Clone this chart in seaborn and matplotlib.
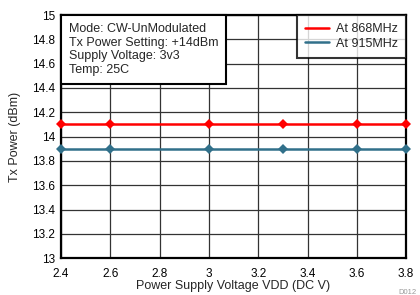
import matplotlib
matplotlib.use('Agg')
import matplotlib.pyplot as plt
from matplotlib.offsetbox import AnchoredText
import seaborn as sns
import pandas as pd

# supply voltage sweep, Tx power readings
vdd = [2.4, 2.6, 3.0, 3.3, 3.6, 3.8]
pwr_868 = [14.1, 14.1, 14.1, 14.1, 14.1, 14.1]
pwr_915 = [13.9, 13.9, 13.9, 13.9, 13.9, 13.9]
series = ['At 868MHz', 'At 915MHz']
yticks = [13, 13.2, 13.4, 13.6, 13.8, 14, 14.2, 14.4, 14.6, 14.8, 15]
xticks = [2.4, 2.6, 2.8, 3, 3.2, 3.4, 3.6, 3.8]
note = 'Mode: CW-UnModulated\nTx Power Setting: +14dBm\nSupply Voltage: 3v3\nTemp: 25C'

df = pd.DataFrame({'VDD': vdd * 2,
                   'Power': pwr_868 + pwr_915,
                   'Series': [series[0]] * len(vdd) + [series[1]] * len(vdd)})

sns.set_style('white')
plt.rcParams['font.family'] = ['Liberation Sans', 'DejaVu Sans']

fig = plt.figure(figsize=(4.2, 2.95), dpi=100)
ax = fig.add_axes([0.145, 0.125, 0.822, 0.824])

sns.lineplot(data=df, x='VDD', y='Power', hue='Series',
             palette=['#ff0000', '#31708a'], marker='D', markersize=5.5,
             markeredgewidth=0, linewidth=1.8, ax=ax, zorder=3)

ax.set_xlim(2.4, 3.8)
ax.set_ylim(13, 15)
ax.set_xticks(xticks)
ax.set_xticklabels([f'{t:g}' for t in xticks])
ax.set_yticks(yticks)
ax.set_yticklabels([f'{t:g}' for t in yticks])
ax.grid(True, color='#333333', linewidth=0.9)
ax.tick_params(axis='both', labelsize=8.5, length=0, colors='black')
ax.tick_params(axis='x', pad=7)
ax.tick_params(axis='y', pad=4)
for s in ax.spines.values():
    s.set_visible(True)
    s.set_color('black')
    s.set_linewidth(1.6)

ax.set_xlabel('Power Supply Voltage VDD (DC V)', fontsize=9, labelpad=0)
ax.set_ylabel('Tx Power (dBm)', fontsize=9, labelpad=8)

for l in ax.lines:
    l.set_clip_on(False)

leg = ax.legend(loc='upper right', fontsize=9, frameon=True, fancybox=False,
                handlelength=1.9, handletextpad=0.6, borderpad=0.65,
                labelspacing=0.2, borderaxespad=0)
leg.get_frame().set_edgecolor('black')
leg.get_frame().set_linewidth(1.5)
for h in leg.get_lines():
    h.set_marker('')

at = AnchoredText(note, loc='upper left', borderpad=0, pad=0.62,
                  prop=dict(fontsize=9, linespacing=1.2), frameon=True)
at.patch.set_edgecolor('black')
at.patch.set_linewidth(1.5)
at.set_zorder(5)
ax.add_artist(at)

fig.text(0.948, 0.004, 'D012', fontsize=5.5, color='#999999')

fig.savefig('out.png', dpi=100)
